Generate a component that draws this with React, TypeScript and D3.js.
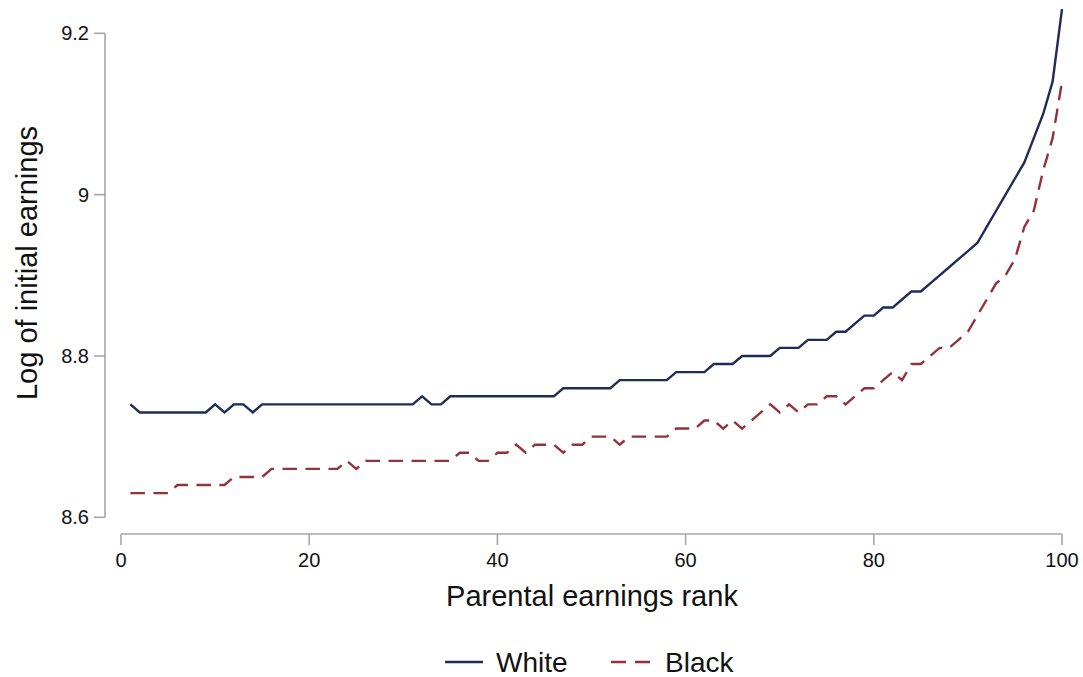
import React from "react";
import * as d3 from "d3";

const ranks: number[] = Array.from({ length: 100 }, (_, i) => i + 1);

const whiteValues: number[] = [
  8.74, 8.73, 8.73, 8.73, 8.73, 8.73, 8.73, 8.73, 8.73, 8.74,
  8.73, 8.74, 8.74, 8.73, 8.74, 8.74, 8.74, 8.74, 8.74, 8.74,
  8.74, 8.74, 8.74, 8.74, 8.74, 8.74, 8.74, 8.74, 8.74, 8.74,
  8.74, 8.75, 8.74, 8.74, 8.75, 8.75, 8.75, 8.75, 8.75, 8.75,
  8.75, 8.75, 8.75, 8.75, 8.75, 8.75, 8.76, 8.76, 8.76, 8.76,
  8.76, 8.76, 8.77, 8.77, 8.77, 8.77, 8.77, 8.77, 8.78, 8.78,
  8.78, 8.78, 8.79, 8.79, 8.79, 8.80, 8.80, 8.80, 8.80, 8.81,
  8.81, 8.81, 8.82, 8.82, 8.82, 8.83, 8.83, 8.84, 8.85, 8.85,
  8.86, 8.86, 8.87, 8.88, 8.88, 8.89, 8.90, 8.91, 8.92, 8.93,
  8.94, 8.96, 8.98, 9.00, 9.02, 9.04, 9.07, 9.10, 9.14, 9.23,
];

const blackValues: number[] = [
  8.63, 8.63, 8.63, 8.63, 8.63, 8.64, 8.64, 8.64, 8.64, 8.64,
  8.64, 8.65, 8.65, 8.65, 8.65, 8.66, 8.66, 8.66, 8.66, 8.66,
  8.66, 8.66, 8.66, 8.67, 8.66, 8.67, 8.67, 8.67, 8.67, 8.67,
  8.67, 8.67, 8.67, 8.67, 8.67, 8.68, 8.68, 8.67, 8.67, 8.68,
  8.68, 8.69, 8.68, 8.69, 8.69, 8.69, 8.68, 8.69, 8.69, 8.70,
  8.70, 8.70, 8.69, 8.70, 8.70, 8.70, 8.70, 8.70, 8.71, 8.71,
  8.71, 8.72, 8.72, 8.71, 8.72, 8.71, 8.72, 8.73, 8.74, 8.73,
  8.74, 8.73, 8.74, 8.74, 8.75, 8.75, 8.74, 8.75, 8.76, 8.76,
  8.77, 8.78, 8.77, 8.79, 8.79, 8.80, 8.81, 8.81, 8.82, 8.83,
  8.85, 8.87, 8.89, 8.90, 8.92, 8.96, 8.98, 9.03, 9.07, 9.14,
];

const xTicks: number[] = [0, 20, 40, 60, 80, 100];
const yTicks: number[] = [8.6, 8.8, 9.0, 9.2];
const yTickLabels: string[] = ["8.6", "8.8", "9", "9.2"];
const seriesNames: string[] = ["White", "Black"];

const WIDTH = 1083;
const HEIGHT = 677;
const NAVY = "#1d2d57";
const MAROON = "#953239";
const AXIS = "#a6a6a6";
const FONT = "'Liberation Sans', Arial, Helvetica, sans-serif";

export default function App() {
  const x = d3.scaleLinear().domain([0, 100]).range([121, 1062]);
  const y = d3.scaleLinear().domain([8.6, 9.2]).range([517.3, 33.3]);

  const line = d3
    .line<number>()
    .x((_, i) => x(ranks[i]))
    .y((d) => y(d));

  const whitePath = line(whiteValues) || "";
  const blackPath = line(blackValues) || "";

  const axisY = 534;
  const axisX = 105;

  return (
    <svg
      width={WIDTH}
      height={HEIGHT}
      style={{ position: "absolute", left: 0, top: 0, background: "#fff" }}
      fontFamily={FONT}
    >
      <rect x={0} y={0} width={WIDTH} height={HEIGHT} fill="#fff" />
      {/* Y axis */}
      <line x1={axisX} x2={axisX} y1={y(9.2)} y2={y(8.6)} stroke={AXIS} strokeWidth={1.6} />
      {yTicks.map((t, i) => (
        <g key={"yt" + i}>
          <line x1={axisX - 11} x2={axisX} y1={y(t)} y2={y(t)} stroke={AXIS} strokeWidth={1.6} />
          <text
            x={axisX - 16}
            y={y(t)}
            dy="0.35em"
            textAnchor="end"
            fontSize={20}
            fill="#111"
          >
            {yTickLabels[i]}
          </text>
        </g>
      ))}
      <text
        transform={`translate(37, 263) rotate(-90)`}
        textAnchor="middle"
        fontSize={29}
        fill="#111"
      >
        Log of initial earnings
      </text>

      {/* X axis */}
      <line x1={x(0)} x2={x(100)} y1={axisY} y2={axisY} stroke={AXIS} strokeWidth={1.6} />
      {xTicks.map((t) => (
        <g key={"xt" + t}>
          <line x1={x(t)} x2={x(t)} y1={axisY} y2={axisY + 11} stroke={AXIS} strokeWidth={1.6} />
          <text x={x(t)} y={567} textAnchor="middle" fontSize={20} fill="#111">
            {t}
          </text>
        </g>
      ))}
      <text x={592} y={606} textAnchor="middle" fontSize={29} fill="#111">
        Parental earnings rank
      </text>

      {/* Lines */}
      <path d={whitePath} fill="none" stroke={NAVY} strokeWidth={2.4} strokeLinejoin="miter" />
      <path
        d={blackPath}
        fill="none"
        stroke={MAROON}
        strokeWidth={2.4}
        strokeDasharray="14.5 8.5"
      />

      {/* Legend */}
      <line x1={445} x2={483} y1={662} y2={662} stroke={NAVY} strokeWidth={2.4} />
      <text x={496} y={672} fontSize={28} fill="#111">
        {seriesNames[0]}
      </text>
      <line
        x1={611}
        x2={650}
        y1={662}
        y2={662}
        stroke={MAROON}
        strokeWidth={2.4}
        strokeDasharray="15 9"
      />
      <text x={665} y={672} fontSize={28} fill="#111">
        {seriesNames[1]}
      </text>
    </svg>
  );
}
